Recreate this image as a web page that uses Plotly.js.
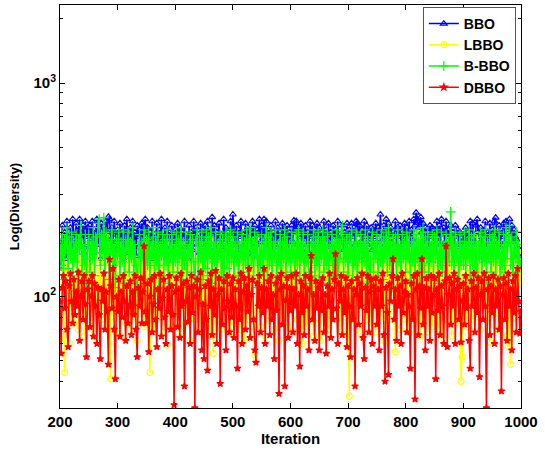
<!DOCTYPE html>
<html>
<head>
<meta charset="utf-8">
<script src="https://cdn.plot.ly/plotly-3.0.1.min.js"></script>
<style>html,body{margin:0;padding:0;background:#fff;}#chart{width:545px;height:450px;}</style>
</head>
<body>
<div id="chart"></div>
<script>
// Iterations sampled every 2 steps from 200 to 1000 (each row = 50 iterations)
const iterStart = 200, iterStep = 2;

const bbo = [
135,180,215,165,200,150,225,190,170,210,160,230,195,175,220,185,205,230,170,200,215,160,225,190,210,
170,215,185,225,160,205,195,230,175,210,150,220,190,205,165,225,200,236,230,185,210,170,225,195,180,
205,165,220,185,200,150,215,175,230,190,160,210,185,225,170,200,155,215,190,205,175,220,185,215,230,
190,210,160,200,175,225,150,195,185,220,165,205,180,230,170,190,210,160,225,185,200,170,215,190,165,
205,180,220,175,210,160,200,185,225,170,195,150,215,180,200,165,225,185,210,175,195,160,220,185,205,
170,215,190,225,180,205,165,235,195,215,160,200,185,220,175,195,165,230,185,210,170,200,180,225,190,
242,200,175,215,160,205,190,225,170,195,180,220,165,210,185,200,155,225,190,215,175,205,195,230,180,
215,185,230,195,225,170,205,190,215,160,200,180,225,170,210,185,200,165,220,180,205,175,215,165,200,
185,215,180,227,200,225,175,210,190,220,165,205,185,215,175,200,160,225,190,215,180,205,170,220,190,
210,175,200,185,225,170,205,185,220,175,200,160,215,190,205,175,225,165,195,180,215,165,200,185,220,
180,205,165,220,190,210,175,225,220,195,215,180,205,170,225,190,215,175,200,185,210,165,205,190,220,
180,210,195,242,200,185,215,175,230,190,220,180,210,170,200,190,225,175,210,190,215,170,200,185,220,
180,210,190,225,175,205,185,230,215,247,230,210,225,235,200,220,185,210,180,200,170,215,190,210,175,
205,185,225,190,215,175,230,195,210,180,225,190,205,170,215,185,200,175,215,190,205,170,200,180,165,
195,175,210,165,200,185,225,180,220,195,175,215,230,200,185,210,175,205,190,225,170,200,185,220,180,
205,190,225,234,195,180,215,170,205,190,220,180,225,215,205,230,195,215,180,205,190,185,170,155,140,
128
];

const lbbo = [
63,110,135,80,44,125,145,90,60,130,105,150,75,120,95,140,70,115,150,85,130,65,140,100,120,
145,85,130,70,150,100,125,62,140,90,150,78,130,110,145,72,125,95,140,41,105,135,80,148,68,
130,95,145,65,125,88,150,75,135,100,140,70,120,92,148,80,130,62,140,100,125,85,150,72,135,
95,140,78,44,125,90,145,70,135,100,150,80,120,92,140,68,130,95,59,135,85,148,72,125,100,
140,80,128,95,150,68,135,90,145,75,125,100,148,62,130,92,142,78,120,95,150,70,135,85,140,
100,145,72,125,90,138,65,130,54,115,148,78,135,95,142,70,125,88,150,80,130,100,140,68,122,
92,145,75,130,100,150,70,135,85,142,62,125,95,148,78,130,88,140,68,53,118,138,82,150,72,
130,95,145,65,135,88,150,78,125,100,142,70,130,92,148,62,122,95,140,80,135,88,150,72,128,
100,145,68,132,92,150,78,125,95,142,60,135,88,148,72,130,100,145,80,122,65,140,92,135,75,
128,62,140,88,150,157,95,135,70,145,85,130,100,148,158,78,132,95,142,68,125,90,150,80,135,
95,34,125,140,78,132,92,150,70,135,100,145,65,128,88,142,78,135,95,150,72,130,92,140,68,
128,100,148,80,135,88,142,62,130,95,145,78,182,105,138,85,55,125,95,150,70,135,90,142,78,
130,95,148,68,135,88,145,75,128,100,150,80,132,65,140,92,125,95,145,68,135,85,150,72,130,
168,88,140,70,132,100,148,64,125,90,142,78,135,95,150,65,130,92,145,75,135,100,125,40,52,
130,88,145,72,135,95,150,68,125,100,142,80,194,105,135,70,140,88,128,95,148,78,132,61,122,
145,82,135,95,150,70,128,90,142,78,135,100,148,65,58,130,48,95,140,80,135,100,162,88,145,
115
];

const bbbo = [
175,140,195,120,185,160,210,135,190,150,200,125,180,145,195,130,185,165,215,125,175,140,195,115,170,
195,130,180,150,210,125,190,160,220,230,140,195,160,234,130,200,150,185,120,175,205,140,175,110,185,
155,200,125,180,145,205,115,185,160,200,130,180,150,210,120,175,140,104,165,195,125,180,150,205,115,
185,140,200,120,180,150,210,125,190,140,200,110,175,155,195,125,185,140,205,115,185,150,195,130,175,
145,200,125,185,150,210,120,180,140,200,110,175,155,195,130,185,145,108,180,205,125,190,150,200,120,
180,135,205,125,190,150,210,115,180,145,200,130,175,150,195,120,185,105,170,200,135,190,125,205,145,
190,125,180,145,200,115,175,150,195,130,180,140,205,120,185,210,140,180,125,200,150,190,110,175,140,
195,130,180,150,210,120,190,140,200,125,180,150,205,115,175,140,195,108,180,150,205,125,190,145,175,
130,200,150,180,120,195,140,205,125,180,150,200,115,175,145,195,130,105,180,150,205,125,190,140,200,
120,180,150,205,130,190,140,200,115,175,150,195,125,180,140,205,110,185,150,200,215,130,180,145,195,
125,190,150,205,120,180,140,200,110,175,150,195,130,180,145,205,115,190,140,108,180,200,130,175,150,
195,125,180,145,205,120,190,150,200,130,210,140,180,110,195,150,190,125,205,145,175,120,195,150,180,
130,200,150,190,115,180,145,205,125,195,150,180,110,200,140,210,130,190,150,200,120,180,145,195,125,
190,150,205,115,180,140,200,130,175,150,195,120,180,145,249,140,190,125,200,150,180,110,195,140,175,
140,200,125,180,150,205,120,190,140,195,130,180,108,175,150,200,125,190,145,205,120,180,150,195,130,
190,145,205,125,180,150,200,115,175,140,195,130,210,150,180,215,140,190,120,180,150,200,130,175,145,
140
];

const dbbo = [
95,54,110,125,88,118,70,58,112,128,95,75,120,82,105,90,130,62,100,118,78,125,92,52,108,
118,72,100,125,65,115,90,60,110,82,51,108,95,128,70,105,85,48,149,112,88,135,70,41,100,
85,120,65,105,80,125,95,62,112,75,90,118,66,105,82,125,70,52,110,90,122,75,105,172,85,
75,115,55,100,120,68,92,125,78,58,108,88,128,65,98,120,80,60,108,85,125,70,112,82,31,
105,122,72,108,64,128,90,115,38,95,118,76,110,60,125,84,112,30,100,120,68,108,130,56,92,
51,112,78,45,118,90,128,66,108,82,132,60,102,122,39,108,74,118,88,56,125,95,68,115,80,
122,64,108,90,46,118,78,128,60,105,122,70,112,85,135,64,102,120,78,56,49,115,90,125,68,
110,84,135,60,108,90,118,66,125,78,102,51,115,86,122,35,108,128,74,112,38,96,122,64,110,
86,125,68,108,90,128,60,102,47,118,84,112,66,125,90,108,56,122,155,78,102,62,118,88,110,
56,115,86,122,68,102,54,112,90,128,64,108,78,120,158,88,60,115,95,125,66,108,84,122,58,
112,90,52,118,78,108,38,102,122,74,115,90,128,64,51,110,86,125,68,105,120,60,112,90,122,
74,108,56,118,90,128,66,40,110,84,43,115,95,125,150,78,108,62,122,90,112,60,128,84,105,
118,68,102,90,46,115,78,125,33,108,128,66,112,88,150,74,110,56,122,90,108,62,125,84,102,
122,41,108,86,128,66,112,90,60,118,172,58,102,122,74,115,90,128,60,108,120,78,112,61,95,
115,74,125,88,108,62,46,118,90,128,68,110,84,122,42,102,118,78,128,90,30,108,122,66,112,
84,125,60,108,90,120,70,112,36,102,122,78,115,62,128,90,108,56,118,84,125,68,135,95,67,
85
];

const names = ['BBO', 'LBBO', 'B-BBO', 'DBBO'];
const yTickVals = [100, 1000];
const yTickText = ['10<sup>2</sup>', '10<sup>3</sup>'];
const xTickVals = [200, 300, 400, 500, 600, 700, 800, 900, 1000];

const styles = [
  {color: '#0000FF', symbol: 'triangle-up-open', size: 6},
  {color: '#FFFF00', symbol: 'circle-open', size: 6},
  {color: '#00FF00', symbol: 'cross-thin-open', size: 7},
  {color: '#FF0000', symbol: 'star', size: 5}
];
const series = [bbo, lbbo, bbbo, dbbo];

const traces = series.map((vals, k) => ({
  x: vals.map((_, i) => iterStart + i * iterStep), y: vals,
  name: names[k], type: 'scatter', mode: 'lines+markers',
  line: {color: styles[k].color, width: 1.5},
  marker: {color: styles[k].color, symbol: styles[k].symbol, size: styles[k].size,
           line: {color: styles[k].color, width: 1.2}}
}));

const minorVals = [40,50,60,70,80,90,200,300,400,500,600,700,800,900,2000];
const fontFam = '"Liberation Sans", Arial, sans-serif';

const layout = {
  width: 545, height: 450,
  margin: {l: 60, r: 23.5, t: 5, b: 42, pad: 0},
  paper_bgcolor: '#fff', plot_bgcolor: '#fff',
  showlegend: true,
  font: {family: fontFam, color: '#000', size: 14, weight: 'bold'},
  xaxis: {
    range: [200, 1000], tickvals: xTickVals, ticktext: xTickVals.map(String),
    ticks: 'inside', ticklen: 5, tickwidth: 1, tickcolor: '#000',
    showline: true, linecolor: '#000', linewidth: 1, mirror: 'ticks',
    showgrid: false, zeroline: false,
    tickfont: {family: fontFam, size: 15, weight: 'bold', color: '#000'},
    title: {text: 'Iteration', font: {family: fontFam, size: 15, weight: 'bold', color: '#000'}, standoff: 2}
  },
  yaxis: {
    type: 'log', range: [Math.log10(30), Math.log10(2320)],
    tickvals: yTickVals, ticktext: yTickText,
    ticks: 'inside', ticklen: 5, tickwidth: 1, tickcolor: '#000',
    showline: true, linecolor: '#000', linewidth: 1, mirror: 'ticks',
    showgrid: false, zeroline: false,
    minor: {tickvals: minorVals, ticks: 'inside', ticklen: 3, tickcolor: '#000', showgrid: false},
    tickfont: {family: fontFam, size: 15, weight: 'bold', color: '#000'},
    title: {text: 'Log(Diversity)', font: {family: fontFam, size: 13, weight: 'bold', color: '#000'}, standoff: 10}
  },
  legend: {
    x: 0.787, y: 0.995, xanchor: 'left', yanchor: 'top',
    bgcolor: '#fff', bordercolor: '#555', borderwidth: 1,
    font: {family: fontFam, size: 14, weight: 'bold', color: '#000'},
    tracegroupgap: 0, itemwidth: 30
  }
};

Plotly.newPlot('chart', traces, layout, {displayModeBar: false, staticPlot: true});
</script>
</body>
</html>
